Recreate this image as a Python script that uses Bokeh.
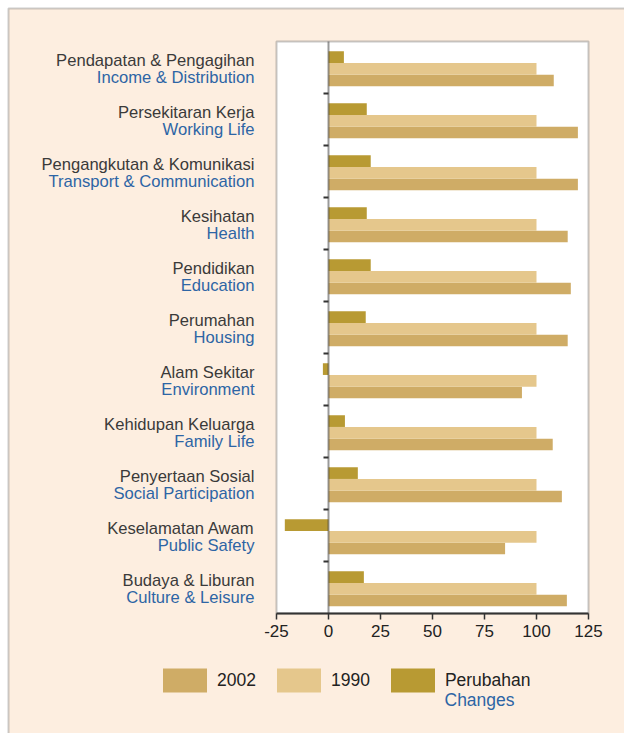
from bokeh.plotting import figure
from bokeh.models import (ColumnDataSource, Range1d, FixedTicker, LinearAxis,
                          BoxAnnotation, Label, Legend, LegendItem)
from bokeh.core.properties import value
from bokeh.transform import dodge
from bokeh.embed import file_html
from bokeh.resources import INLINE

# ---- data ----
malay = ["Pendapatan & Pengagihan", "Persekitaran Kerja", "Pengangkutan & Komunikasi",
         "Kesihatan", "Pendidikan", "Perumahan", "Alam Sekitar", "Kehidupan Keluarga",
         "Penyertaan Sosial", "Keselamatan Awam", "Budaya & Liburan"]
english = ["Income & Distribution", "Working Life", "Transport & Communication",
           "Health", "Education", "Housing", "Environment", "Family Life",
           "Social Participation", "Public Safety", "Culture & Leisure"]
v2002 = [108.3, 119.9, 119.9, 115.0, 116.5, 115.0, 93.0, 107.8, 112.2, 84.9, 114.6]
v1990 = [100, 100, 100, 100, 100, 100, 100, 100, 100, 100, 100]
change = [7.4, 18.4, 20.3, 18.4, 20.3, 17.9, -2.7, 7.9, 14.1, -21.0, 17.0]
x_ticks = [-25, 0, 25, 50, 75, 100, 125]

C2002 = "#cfac66"
C1990 = "#e5c78c"
CCHG = "#b89a33"
BG = "#fdeee0"
BLUE = "#2d65a5"
DARK = "#333333"
FONT = "Liberation Sans"

W, H = 624, 733
PL, PR, PT = 276, 588, 41            # plot-area edges in px
n = len(malay)
ypos = [n - 1 - i for i in range(n)]          # first category at the top
xmin, xmax = x_ticks[0], x_ticks[-1]
PX = (PR - PL) / (xmax - xmin)                 # px per x unit
PY = 52                                        # px per category
x_range = Range1d(xmin - PL / PX, xmax + (W - PR) / PX)
y_range = Range1d(-0.5 - (H - PT - PY * n) / PY, n - 0.5 + PT / PY)

src = ColumnDataSource(dict(y=ypos, cat=malay, eng=english, v2002=v2002, v1990=v1990,
                            change=change, zero=[0] * n, lab_x=[xmin] * n))

p = figure(width=W, height=H, output_backend="svg", toolbar_location=None,
           x_range=x_range, y_range=y_range, x_axis_location=None, y_axis_location=None,
           min_border=0, background_fill_color="white", border_fill_color="white",
           outline_line_color=None)
p.grid.visible = False

# cream page panel with its left/top border
p.add_layout(BoxAnnotation(left=x_range.start + 8 / PX, right=x_range.end + 10,
                           top=y_range.end - 8 / PY, bottom=y_range.start - 10,
                           fill_color=BG, fill_alpha=1, line_color="#555",
                           line_width=2, level="underlay"))
# white plot area with frame
p.add_layout(BoxAnnotation(left=xmin, right=xmax, bottom=-0.5, top=n - 0.5,
                           fill_color="white", fill_alpha=1, line_color="#444",
                           line_width=2, level="underlay"))

h = 0.225
r2002 = p.hbar(y=dodge("y", -0.25), left="zero", right="v2002", height=h,
               source=src, color=C2002, line_color=None)
r1990 = p.hbar(y=dodge("y", -0.025), left="zero", right="v1990", height=h,
               source=src, color=C1990, line_color=None)
rchg = p.hbar(y=dodge("y", 0.2), left="zero", right="change", height=h,
              source=src, color=CCHG, line_color=None)

# category axis along the zero line (ticks at category boundaries)
yax = LinearAxis(fixed_location=0, bounds=(-0.5, n - 0.5),
                 ticker=FixedTicker(ticks=[i + 0.5 for i in range(n - 1)]),
                 axis_line_color=DARK, axis_line_alpha=0.5, axis_line_width=2,
                 major_tick_line_color=DARK, major_tick_line_width=2,
                 major_tick_out=5, major_tick_in=0, minor_tick_line_color=None,
                 major_label_text_alpha=0)
p.add_layout(yax, "left")

# value axis at the bottom of the plot area
xax = LinearAxis(fixed_location=-0.5, bounds=(xmin, xmax), ticker=FixedTicker(ticks=x_ticks),
                 major_label_overrides={t: str(t) for t in x_ticks},
                 axis_line_color=DARK, axis_line_width=2,
                 major_tick_line_color=DARK, major_tick_line_width=1.5,
                 major_tick_out=6, major_tick_in=0, minor_tick_line_color=None,
                 major_label_text_font=FONT, major_label_text_font_size="17px",
                 major_label_text_color="#222", major_label_standoff=5)
p.add_layout(xax, "below")

# category labels (Malay / English)
p.text(x="lab_x", y="y", text="cat", source=src, x_offset=-22, y_offset=-7,
       text_align="right", text_baseline="alphabetic", text_font=value(FONT),
       text_font_size="16.6px", text_color="#3a3a3a")
p.text(x="lab_x", y="y", text="eng", source=src, x_offset=-22, y_offset=10,
       text_align="right", text_baseline="alphabetic", text_font=value(FONT),
       text_font_size="16.6px", text_color=BLUE)

legend = Legend(items=[LegendItem(label="2002", renderers=[r2002]),
                       LegendItem(label="1990", renderers=[r1990]),
                       LegendItem(label="Perubahan", renderers=[rchg])],
                orientation="horizontal", location=(157, 38),
                glyph_width=55, glyph_height=30, label_standoff=5, spacing=15,
                padding=0, margin=0, border_line_color=None, background_fill_alpha=0,
                label_text_font=FONT, label_text_font_size="17.5px", label_text_color="#222",
                label_height=30)
p.add_layout(legend, "center")

p.add_layout(Label(x=444, y=34, x_units="screen", y_units="screen", text="Changes",
                   text_font=FONT, text_font_size="17.5px", text_color=BLUE,
                   text_baseline="alphabetic"))

open("out.html", "w").write(file_html(p, INLINE))
